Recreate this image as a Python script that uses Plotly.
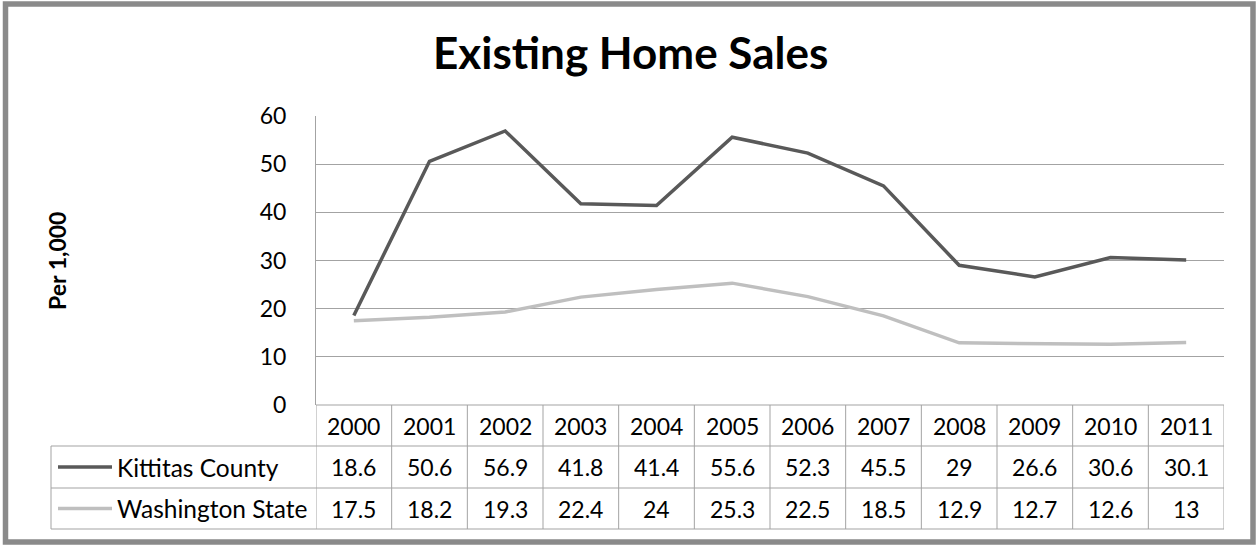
"""Existing home sales per 1,000 - line chart with a data table underneath."""

import plotly.graph_objects as go

# data
years = [2000, 2001, 2002, 2003, 2004, 2005, 2006, 2007, 2008, 2009, 2010, 2011]
kittitas = [18.6, 50.6, 56.9, 41.8, 41.4, 55.6, 52.3, 45.5, 29, 26.6, 30.6, 30.1]
washington = [17.5, 18.2, 19.3, 22.4, 24, 25.3, 22.5, 18.5, 12.9, 12.7, 12.6, 13]
series_names = ["Kittitas County", "Washington State"]
y_ticks = [0, 10, 20, 30, 40, 50, 60]

W, H = 1256, 545
FONT = "Lato"
DARK = "#595959"
LIGHT = "#bfbfbf"
GRID = "#a3a3a3"


def px(x):
    return x / W


def py(y):
    return 1 - y / H


# pixel layout of the plot area and table rows
plot_left, plot_right = 316, 1224
plot_top, plot_bottom = 116, 405
row_edges = [405, 446, 488, 529]
table_left = 51

fig = go.Figure()

series = [(series_names[0], kittitas, DARK), (series_names[1], washington, LIGHT)]
for name, vals, color in series:
    fig.add_trace(go.Scatter(
        x=years, y=vals, name=name, mode="lines",
        line=dict(color=color, width=3.5),
        showlegend=False, hoverinfo="skip",
    ))

shapes = []
annotations = []

# horizontal table lines
shapes.append(dict(type="line", xref="paper", yref="paper",
                   x0=px(plot_left), x1=px(plot_right),
                   y0=py(row_edges[0]), y1=py(row_edges[0]),
                   line=dict(color=GRID, width=1)))
for r in row_edges[1:]:
    shapes.append(dict(type="line", xref="paper", yref="paper",
                       x0=px(table_left), x1=px(plot_right), y0=py(r), y1=py(r),
                       line=dict(color=GRID, width=1)))

# vertical table lines, one per year boundary
for yr in years:
    shapes.append(dict(type="line", xref="x", yref="paper",
                       x0=yr - 0.5, x1=yr - 0.5,
                       y0=py(row_edges[0]), y1=py(row_edges[-1]),
                       line=dict(color=GRID, width=1)))
shapes.append(dict(type="line", xref="x", yref="paper",
                   x0=years[-1] + 0.5, x1=years[-1] + 0.5,
                   y0=py(row_edges[0]), y1=py(row_edges[-1]),
                   line=dict(color=GRID, width=1)))
shapes.append(dict(type="line", xref="paper", yref="paper",
                   x0=px(table_left), x1=px(table_left),
                   y0=py(row_edges[1]), y1=py(row_edges[-1]),
                   line=dict(color=GRID, width=1)))

# table text
cell_font = dict(family=FONT, size=23, color="black")
label_font = dict(family=FONT, size=24.5, color="black")
header_y = py((row_edges[0] + row_edges[1]) / 2)
for yr in years:
    annotations.append(dict(x=yr, y=header_y, xref="x", yref="paper",
                            text=str(yr), showarrow=False, font=cell_font,
                            xanchor="center", yanchor="middle"))

for k, (name, vals, color) in enumerate(series):
    yc = py((row_edges[k + 1] + row_edges[k + 2]) / 2)
    for yr, v in zip(years, vals):
        annotations.append(dict(x=yr, y=yc, xref="x", yref="paper",
                                text=f"{v:g}", showarrow=False, font=cell_font,
                                xanchor="center", yanchor="middle"))
    # legend key + label
    shapes.append(dict(type="line", xref="paper", yref="paper",
                       x0=px(58), x1=px(112), y0=yc, y1=yc,
                       line=dict(color=color, width=3.5)))
    annotations.append(dict(x=px(115), y=yc, xref="paper", yref="paper",
                            text=name, showarrow=False, font=label_font,
                            xanchor="left", yanchor="middle"))

# title and axis title
annotations.append(dict(x=px(630), y=py(52), xref="paper", yref="paper",
                        text="<b>Existing Home Sales</b>", showarrow=False,
                        font=dict(family=FONT, size=44, color="black"),
                        xanchor="center", yanchor="middle"))
annotations.append(dict(x=px(57), y=py(261), xref="paper", yref="paper",
                        text="<b>Per 1,000</b>", showarrow=False, textangle=-90,
                        font=dict(family=FONT, size=23, color="black"),
                        xanchor="center", yanchor="middle"))

# outer frame
shapes.append(dict(type="rect", xref="paper", yref="paper",
                   x0=px(5.5), x1=px(1253), y0=py(4), y1=py(542),
                   line=dict(color="#8a8a8a", width=5.5)))

fig.update_layout(
    width=W, height=H,
    margin=dict(l=0, r=0, t=0, b=0, autoexpand=False),
    paper_bgcolor="white", plot_bgcolor="white",
    font=dict(family=FONT, size=23, color="black"),
    xaxis=dict(domain=[px(plot_left), px(plot_right)],
               range=[years[0] - 0.5, years[-1] + 0.5],
               showticklabels=False, showgrid=False, zeroline=False,
               showline=False, ticks="", automargin=False),
    yaxis=dict(domain=[py(plot_bottom), py(plot_top)],
               range=[0, 60], tickvals=y_ticks,
               showgrid=True, gridcolor=GRID, gridwidth=1,
               zeroline=False, showline=True, linecolor=GRID, linewidth=1,
               ticks="", ticklabelstandoff=24, automargin=False,
               tickfont=dict(family=FONT, size=23, color="black")),
    shapes=shapes,
    annotations=annotations,
)

# drop the default page margin so the figure sits at the window origin
fig.write_html("out.html", config={"displayModeBar": False},
               post_script="document.body.style.margin = '0';")
